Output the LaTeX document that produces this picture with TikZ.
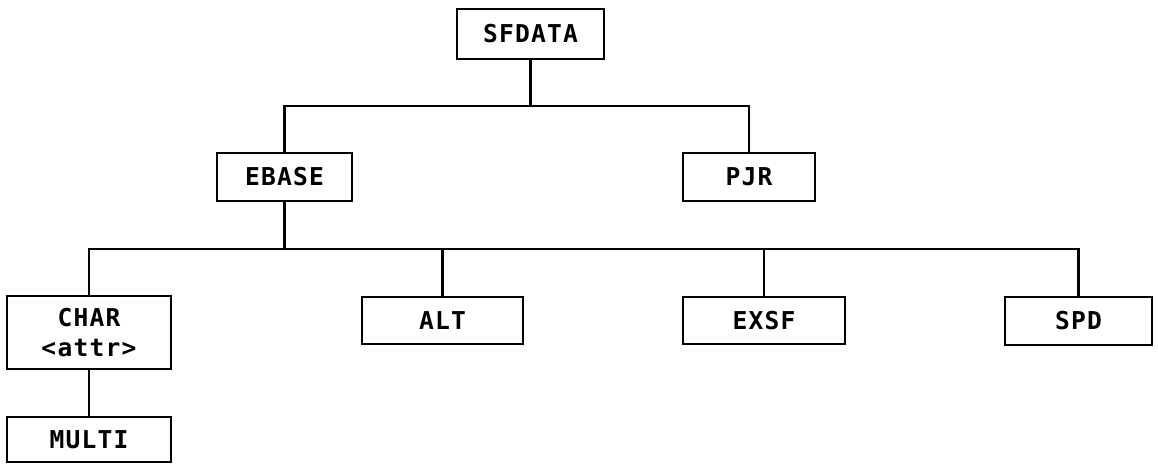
\documentclass[tikz,border=0pt]{standalone}
\usepackage{fontspec}
\setmonofont[LetterSpace=5]{DejaVu Sans Mono}
\usetikzlibrary{positioning}
\tikzset{
  modbox/.style={draw, line width=1.3pt, inner sep=0pt, align=center,
    font=\ttfamily\bfseries\fontsize{14}{17}\selectfont},
  link/.style={line width=1.3pt}
}

\begin{document}
\begin{tikzpicture}[x=0.02cm, y=-0.02cm]
\useasboundingbox (0,0) rectangle (1158,464);
% top level
\node[modbox, minimum width=2.94cm, minimum height=1.0cm] (sfdata) at (530.5,34) {SFDATA};
% second level
\node[modbox, minimum width=2.7cm, minimum height=0.96cm] (ebase) at (284.5,177) {EBASE};
\node[modbox, minimum width=2.64cm, minimum height=0.96cm] (pjr) at (749,177) {PJR};
% third level
\node[modbox, minimum width=3.28cm, minimum height=1.46cm] (char) at (89,332.5) {CHAR\\<attr>};
\node[modbox, minimum width=3.22cm, minimum height=0.94cm] (alt) at (442.5,320.5) {ALT};
\node[modbox, minimum width=3.24cm, minimum height=0.94cm] (exsf) at (764,320.5) {EXSF};
\node[modbox, minimum width=2.94cm, minimum height=0.96cm] (spd) at (1078.5,321) {SPD};
\node[modbox, minimum width=3.28cm, minimum height=0.9cm] (multi) at (89,439.5) {MULTI};
% bus lines
\coordinate (topbus) at (0,106);
\coordinate (lowbus) at (0,249);
\draw[link] (sfdata.south) -- (sfdata.south |- topbus);
\draw[link] (ebase.north) |- (pjr.north |- topbus) -- (pjr.north);
\draw[link] (ebase.south) -- (ebase.south |- lowbus);
\draw[link] (char.north) |- (spd.north |- lowbus) -- (spd.north);
\draw[link] (alt.north) -- (alt.north |- lowbus);
\draw[link] (exsf.north) -- (exsf.north |- lowbus);
\draw[link] (char.south) -- (multi.north);
\end{tikzpicture}
\end{document}
